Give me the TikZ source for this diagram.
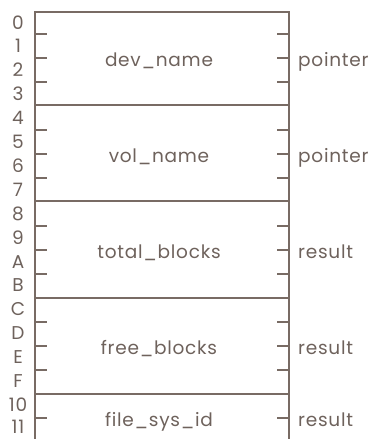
\documentclass[tikz,border=0pt]{standalone}
\usepackage{fontspec}
\setmainfont{Poppins}[LetterSpace=4]
\definecolor{ink}{HTML}{786B64}
\definecolor{txt}{HTML}{6E625C}
\begin{document}
\begin{tikzpicture}[x=1pt,y=-1pt,
  frame/.style={draw=ink,line width=1.8pt},
  tick/.style={draw=ink,line width=1.6pt},
  lbl/.style={text=txt,font=\fontsize{18.5}{20}\selectfont,inner sep=0pt},
  fld/.style={lbl,anchor=base},
  side/.style={lbl,anchor=base west},
  num/.style={lbl,anchor=base}]
\useasboundingbox (0,0) rectangle (374,439);
% frame
\coordinate (tl) at (35,12);
\coordinate (tr) at (289,12);
\coordinate (bl) at (35,439);
\coordinate (br) at (289,439);
\draw[frame] (bl) -- (tl) -- (tr) -- (br);
% dividers
\foreach \y in {105,201,298,394}
  \draw[frame] (35,\y) -- (289,\y);
% ticks
\foreach \y in {34,58,82,130,154,178,226,250,274,322,346,370,418}{
  \draw[tick] (35,\y) -- (47,\y);
  \draw[tick] (277,\y) -- (289,\y);
}
% offsets
\foreach \t [count=\i from 0] in {0,1,2,3,4,5,6,7,8,9,A,B,C,D,E,F,10}
  \node[num] (n\i) at (18,{22.5+23.9*\i+6.5}) {\t};
\node[num] (n17) at (18,433.5) {11};
% fields
\node[fld] (f1) at (159,66) {dev\_name};
\node[fld] (f2) at (159,162) {vol\_name};
\node[fld] (f3) at (159,258) {total\_blocks};
\node[fld] (f4) at (159,354) {free\_blocks};
\node[fld] (f5) at (159,426) {file\_sys\_id};
% side labels
\node[side] (s1) at (298,66) {pointer};
\node[side] (s2) at (298,162) {pointer};
\node[side] (s3) at (298,258) {result};
\node[side] (s4) at (298,354) {result};
\node[side] (s5) at (298,426) {result};
\end{tikzpicture}
\end{document}
